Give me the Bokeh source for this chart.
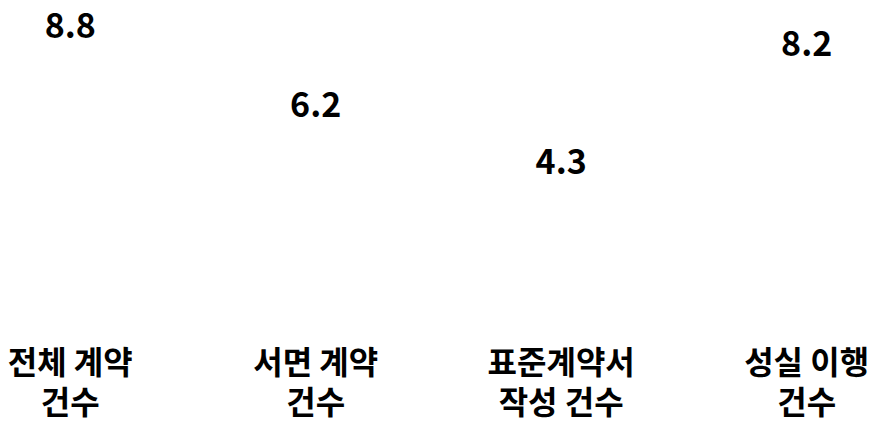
from bokeh.plotting import figure
from bokeh.models import Range1d, ColumnDataSource
from bokeh.core.properties import value
from bokeh.embed import file_html
from bokeh.resources import INLINE

categories = ["전체 계약\n건수", "서면 계약\n건수", "표준계약서\n작성 건수", "성실 이행\n건수"]
values = [8.8, 6.2, 4.3, 8.2]
value_labels = ["8.8", "6.2", "4.3", "8.2"]

xs = list(range(len(categories)))
src = ColumnDataSource(dict(x=xs, v=values, lab=value_labels, cat=categories, zero=[0] * len(xs)))

p = figure(width=871, height=424, output_backend="svg", toolbar_location=None,
           x_range=Range1d(-0.284, 3.264), y_range=Range1d(-4.41, 9.63),
           min_border=0, min_border_left=0, min_border_right=0,
           min_border_top=0, min_border_bottom=0)
p.axis.visible = False
p.grid.visible = False
p.outline_line_color = None
p.background_fill_color = "white"
p.border_fill_color = "white"

p.vbar(x="x", top="v", bottom=0, width=0.6, source=src, fill_color="white", line_color=None)

font = value("Noto Sans CJK KR")
p.text(x="x", y="v", text="lab", source=src, text_font=font, text_font_style="bold",
       text_font_size="34px", text_align="center", text_baseline="middle", text_color="black")
p.text(x="x", y="zero", text="cat", source=src, text_font=font, text_font_style="bold",
       text_font_size="32px", text_align="center", text_baseline="middle", text_color="black",
       y_offset=89, text_line_height=0.87)

open("out.html", "w").write(file_html(p, INLINE))
